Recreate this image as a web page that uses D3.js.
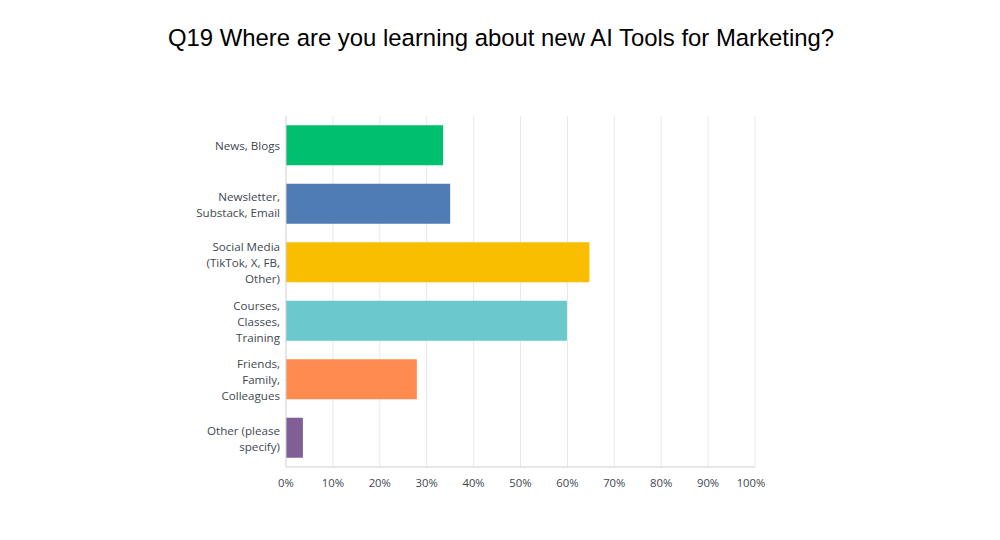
<!DOCTYPE html>
<html>
<head>
<meta charset="utf-8">
<script src="https://cdn.jsdelivr.net/npm/d3@7"></script>
<style>
  body { margin: 0; background: #fff; }
</style>
</head>
<body>
<script>
const categories = [
  ["News, Blogs"],
  ["Newsletter,", "Substack, Email"],
  ["Social Media", "(TikTok, X, FB,", "Other)"],
  ["Courses,", "Classes,", "Training"],
  ["Friends,", "Family,", "Colleagues"],
  ["Other (please", "specify)"]
];
const values = [33.5, 35.0, 64.7, 59.9, 27.9, 3.6];
const colors = ["#00bf6f", "#507cb6", "#f9be00", "#6bc8cd", "#ff8b4f", "#7f5f95"];
const ticks = [0, 10, 20, 30, 40, 50, 60, 70, 80, 90, 100];

const width = 1000, height = 540;
const margin = {top: 116, left: 286, right: 245, bottom: 73};

const svg = d3.select("body").append("svg")
  .attr("width", width)
  .attr("height", height);

svg.append("text")
  .attr("x", width / 2 + 1)
  .attr("y", 46)
  .attr("text-anchor", "middle")
  .style("font-family", "'Liberation Sans', Arial, sans-serif")
  .style("font-size", "23.9px")
  .style("fill", "#000")
  .text("Q19 Where are you learning about new AI Tools for Marketing?");

const x = d3.scaleLinear().domain([0, 100]).range([margin.left, width - margin.right]);
const y = d3.scaleBand()
  .domain(d3.range(categories.length))
  .range([margin.top, height - margin.bottom])
  .paddingInner(0.316)
  .paddingOuter(0.158);

// gridlines
svg.append("g").selectAll("line")
  .data(ticks.slice(1))
  .enter().append("line")
  .attr("x1", d => x(d)).attr("x2", d => x(d))
  .attr("y1", margin.top).attr("y2", height - margin.bottom)
  .attr("stroke", "#e8e8e8")
  .attr("stroke-width", 1);

// bars
svg.append("g").selectAll("rect")
  .data(values)
  .enter().append("rect")
  .attr("x", x(0))
  .attr("y", (d, i) => y(i))
  .attr("width", d => x(d) - x(0))
  .attr("height", y.bandwidth())
  .attr("fill", (d, i) => colors[i]);

// axis lines
svg.append("line")
  .attr("x1", x(0)).attr("x2", x(0))
  .attr("y1", margin.top).attr("y2", height - margin.bottom)
  .attr("stroke", "#cfcfcf");
svg.append("line")
  .attr("x1", x(0)).attr("x2", x(100))
  .attr("y1", height - margin.bottom).attr("y2", height - margin.bottom)
  .attr("stroke", "#cfcfcf");

const labelFont = "'Open Sans', Roboto, sans-serif";

// x tick labels
svg.append("g").selectAll("text")
  .data(ticks)
  .enter().append("text")
  .attr("x", d => x(d) - (d === 100 ? 4 : 0))
  .attr("y", height - margin.bottom + 20)
  .attr("text-anchor", "middle")
  .style("font-family", labelFont)
  .style("font-size", "11.3px")
  .style("fill", "#404850")
  .text(d => d + "%");

// category labels
const lineH = 16;
const lab = svg.append("g").selectAll("text")
  .data(categories)
  .enter().append("text")
  .attr("text-anchor", "end")
  .style("font-family", labelFont)
  .style("font-size", "11.6px")
  .style("fill", "#404850");

lab.each(function (lines, i) {
  const cy = y(i) + y.bandwidth() / 2;
  const start = cy - (lines.length - 1) * lineH / 2;
  d3.select(this).selectAll("tspan")
    .data(lines)
    .enter().append("tspan")
    .attr("x", 280)
    .attr("y", (d, j) => start + j * lineH + 1)
    .attr("dy", "0.35em")
    .text(d => d);
});
</script>
</body>
</html>
